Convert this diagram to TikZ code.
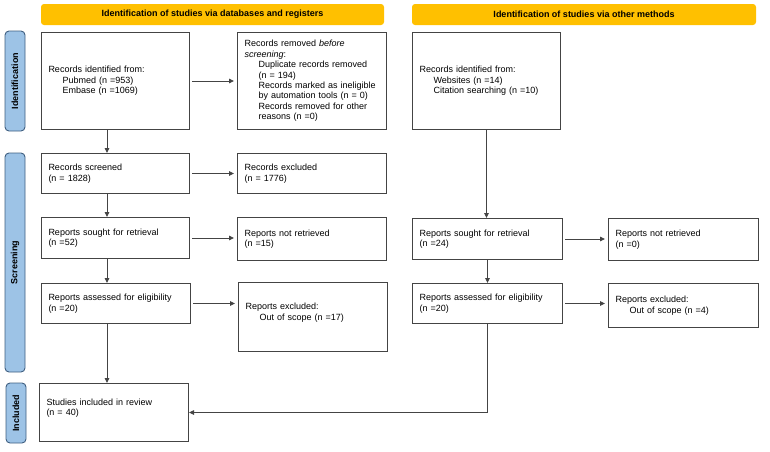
\documentclass[tikz,border=0pt]{standalone}
\usepackage{fontspec}
\setmainfont{Liberation Sans}
\usetikzlibrary{arrows.meta,calc}
\definecolor{linec}{HTML}{444444}
\definecolor{hdrc}{HTML}{FFC000}
\definecolor{sidefill}{HTML}{9DC3E6}
\definecolor{sidec}{HTML}{3F5F80}
\newcommand\ind{\hspace*{14pt}}
\begin{document}
\begin{tikzpicture}[x=1pt,y=-1pt,
  box/.style={draw=linec, line width=1pt, fill=white, anchor=north west, align=left,
    inner xsep=7pt, inner ysep=2pt, font=\fontsize{9}{10.4}\selectfont},
  hdr/.style={fill=hdrc, rounded corners=3pt, minimum height=21pt, inner sep=0pt,
    font=\bfseries\fontsize{9}{10}\selectfont},
  side/.style={draw=sidec, fill=sidefill, rounded corners=4pt, line width=0.9pt,
    minimum height=20pt, inner sep=0pt, rotate=90, font=\bfseries\fontsize{9}{10}\selectfont},
  arr/.style={draw=linec, line width=0.9pt, -{Triangle[length=5pt,width=4.5pt]}}]
\useasboundingbox (0,0) rectangle (770,451);

% headers
\node[hdr, minimum width=343pt] (h1) at (212.5,14.5) {Identification of studies via databases and registers};
\node[hdr, minimum width=344pt] (h2) at (584,14.5) {Identification of studies via other methods};

% side labels
\node[side, minimum width=100pt] (s1) at (15,81) {Identification};
\node[side, minimum width=219pt] (s2) at (15,262.5) {Screening};
\node[side, minimum width=60pt] (s3) at (16,413) {Included};

% left column
\node[box, text width=134pt, minimum height=97pt] (rid) at (41,32)
  {Records identified from:\\\ind Pubmed (n =953)\\\ind Embase (n =1069)};
\node[box, text width=135pt, minimum height=97pt] (rrm) at (237,32)
  {Records removed \textit{before}\\\textit{screening}:\\\ind Duplicate records removed\\\ind (n = 194)\\\ind Records marked as ineligible\\\ind by automation tools (n = 0)\\\ind Records removed for other\\\ind reasons (n =0)};
\node[box, text width=134pt, minimum height=40pt] (scr) at (41,153)
  {Records screened\\(n = 1828)};
\node[box, text width=135pt, minimum height=40pt] (rex) at (237,153)
  {Records excluded\\(n = 1776)};
\node[box, text width=134pt, minimum height=41pt] (rsr) at (41,217)
  {Reports sought for retrieval\\(n =52)};
\node[box, text width=135pt, minimum height=43pt] (rnr) at (237,217)
  {Reports not retrieved\\(n =15)};
\node[box, text width=135pt, minimum height=40pt] (rae) at (41,283)
  {Reports assessed for eligibility\\(n =20)};
\node[box, text width=135pt, minimum height=69pt] (rxc) at (238,282)
  {Reports excluded:\\\ind Out of scope (n =17)\\\mbox{}};
\node[box, text width=135pt, minimum height=58pt] (stu) at (39,383)
  {Studies included in review\\(n = 40)\\\mbox{}};

% right column
\node[box, text width=134pt, minimum height=97pt] (wid) at (412,32)
  {Records identified from:\\\ind Websites (n =14)\\\ind Citation searching (n =10)};
\node[box, text width=136pt, minimum height=41pt] (rsr2) at (412,218)
  {Reports sought for retrieval\\(n =24)};
\node[box, text width=136pt, minimum height=42pt] (rnr2) at (608,218)
  {Reports not retrieved\\(n =0)};
\node[box, text width=136pt, minimum height=40pt] (rae2) at (412,283)
  {Reports assessed for eligibility\\(n =20)};
\node[box, text width=136pt, minimum height=44pt] (rxc2) at (608,283)
  {Reports excluded:\\\ind Out of scope (n =4)};

% arrows left column
\draw[arr] ([xshift=66pt]rid.south west) -- ([xshift=66pt]scr.north west);
\draw[arr] ([xshift=66pt]scr.south west) -- ([xshift=66pt]rsr.north west);
\draw[arr] ([xshift=66pt]rsr.south west) -- ([xshift=66pt]rae.north west);
\draw[arr] ([xshift=66pt]rae.south west) -- ([xshift=68pt]stu.north west);
\draw[arr, shorten <=2pt, shorten >=3pt] (rid.east) -- (rid.east -| rrm.west);
\draw[arr, shorten <=2pt, shorten >=3pt] (scr.east) -- (scr.east -| rex.west);
\draw[arr, shorten <=2pt, shorten >=3pt] (rsr.east) -- (rsr.east -| rnr.west);
\draw[arr, shorten <=2pt, shorten >=3pt] (rae.east) -- (rae.east -| rxc.west);

% arrows right column
\draw[arr] (wid.south) -- (wid.south |- rsr2.north);
\draw[arr] (rsr2.south) -- (rsr2.south |- rae2.north);
\draw[arr, shorten <=2pt, shorten >=3pt] (rsr2.east) -- (rsr2.east -| rnr2.west);
\draw[arr, shorten <=2pt, shorten >=3pt] (rae2.east) -- (rae2.east -| rxc2.west);
\draw[arr] (rae2.south) |- (stu.east);
\end{tikzpicture}
\end{document}
